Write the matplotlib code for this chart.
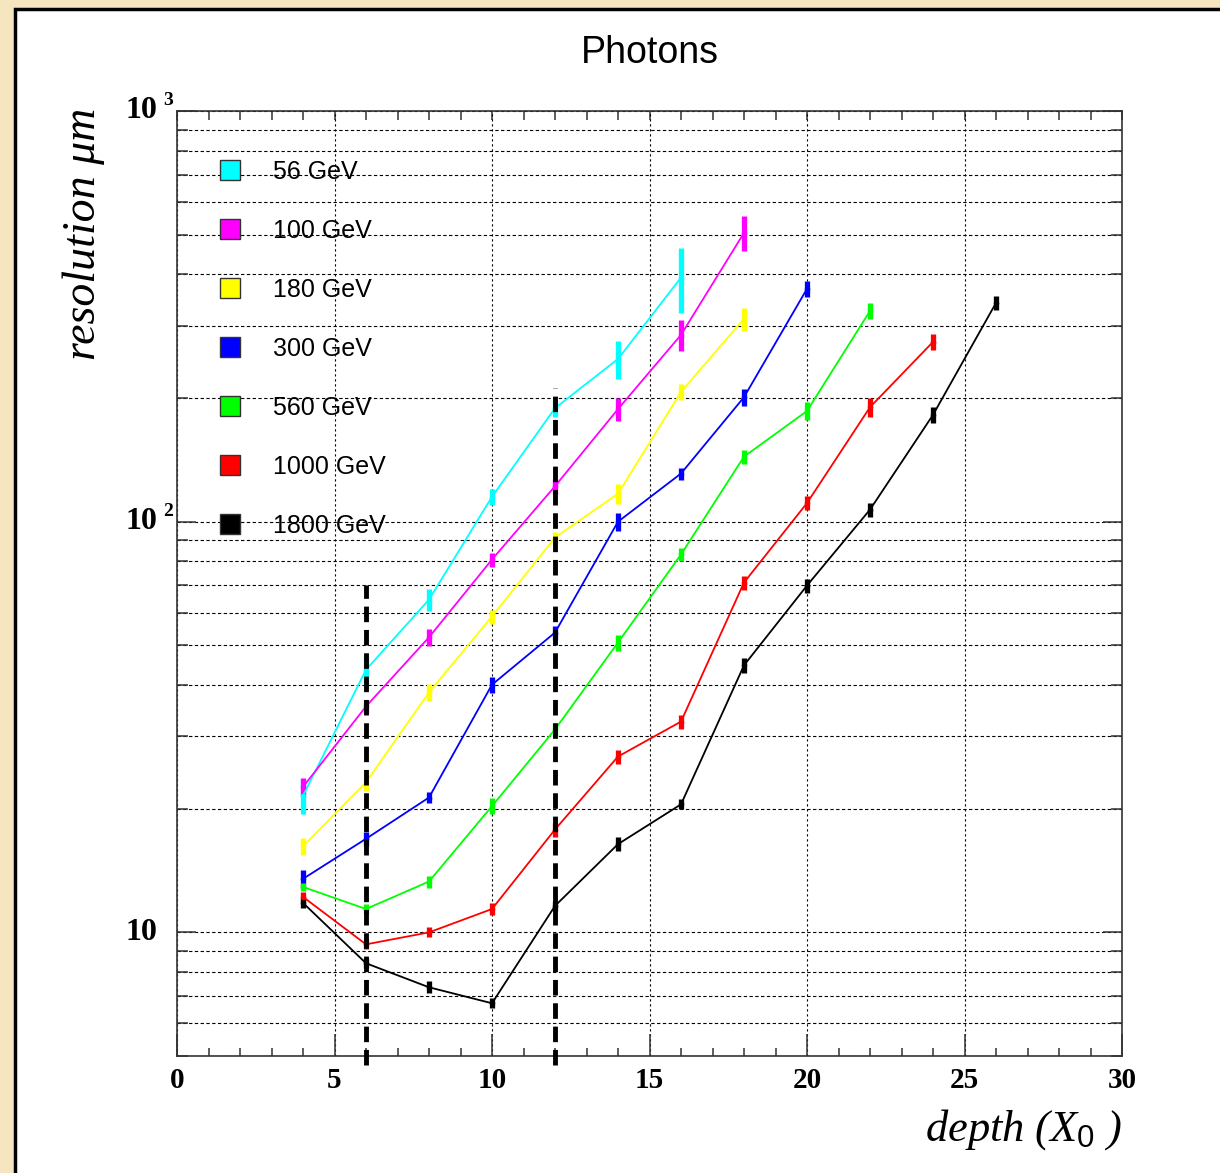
import matplotlib
matplotlib.use('Agg')
import matplotlib.pyplot as plt
import numpy as np
from matplotlib.patches import Rectangle
from matplotlib.lines import Line2D
from matplotlib.ticker import MultipleLocator, LogLocator, NullFormatter

plt.rcParams['mathtext.fontset'] = 'custom'
plt.rcParams['mathtext.it'] = 'Liberation Serif:italic'
plt.rcParams['mathtext.rm'] = 'Liberation Serif'
plt.rcParams['mathtext.sf'] = 'Liberation Sans'

# data: depth in X0, resolution in micrometres
labels = ['56 GeV', '100 GeV', '180 GeV', '300 GeV', '560 GeV', '1000 GeV', '1800 GeV']
colors = ['#00ffff', '#ff00ff', '#ffff00', '#0000ff', '#00ff00', '#ff0000', '#000000']

res_56 = [21.5, 43.6, 64.6, 115, 189, 249, 393]
res_100 = [22.6, 35.5, 52.3, 80.9, 122, 188, 285, 505]
res_180 = [16.2, 23.2, 38.4, 58.8, 91.5, 117, 207, 312]
res_300 = [13.5, 16.9, 21.3, 40.1, 53.7, 100, 131, 201, 369]
res_560 = [12.9, 11.4, 13.3, 20.3, 31.2, 50.8, 83.2, 144, 186, 326]
res_1000 = [12.2, 9.35, 10.0, 11.4, 17.8, 26.8, 32.6, 71.1, 111, 190, 274]
res_1800 = [11.8, 8.41, 7.35, 6.72, 11.6, 16.4, 20.5, 44.7, 69.9, 107, 182, 341]

err_56 = [2.1, 3.5, 4.1, 5.3, 8.7, 26, 70]
err_100 = [1.1, 1.2, 2.4, 3.2, 4.9, 12, 25, 50]
err_180 = [0.75, 1.1, 1.8, 2.3, 3.1, 6.7, 9.5, 20]
err_300 = [0.7, 0.7, 0.7, 1.8, 2.1, 5, 4.5, 10, 17]
err_560 = [0.3, 0.3, 0.45, 0.9, 1.1, 2.3, 3.2, 5.6, 9.5, 15]
err_1000 = [0.35, 0.26, 0.28, 0.39, 0.7, 1.07, 1.3, 2.8, 4.4, 9.7, 12.6]
err_1800 = [0.33, 0.24, 0.25, 0.19, 0.32, 0.66, 0.57, 1.8, 2.8, 4.3, 8.4, 13.6]

series = [res_56, res_100, res_180, res_300, res_560, res_1000, res_1800]
errors = [err_56, err_100, err_180, err_300, err_560, err_1000, err_1800]

# thick dashed markers at depth 6 and 12
cut_depth = [6, 12]
cut_top = [70, 212]
cut_bottom = 4.75

W, H = 1220, 1173
fig = plt.figure(figsize=(W / 100, H / 100), dpi=100, facecolor='#f6e6bf')
fig.patches.append(Rectangle((15 / W, -0.1), 1.2, 1.1 - 9 / H, transform=fig.transFigure,
                             facecolor='white', edgecolor='black', lw=2.5, zorder=-10))

ax = fig.add_axes([177 / W, 1 - 1056 / H, 945 / W, 945 / H])
ax.set_yscale('log')
ax.set_xlim(0, 30)
ax.set_ylim(5, 1000)

# grid
ax.xaxis.set_major_locator(MultipleLocator(5))
ax.xaxis.set_minor_locator(MultipleLocator(1))
ax.yaxis.set_major_locator(LogLocator(base=10))
ax.yaxis.set_minor_locator(LogLocator(base=10, subs=np.arange(2, 10)))
ax.yaxis.set_major_formatter(NullFormatter())
ax.yaxis.set_minor_formatter(NullFormatter())
ax.grid(True, axis='y', which='both', color='black', lw=0.8, dashes=(3, 2.2))
ax.grid(True, axis='x', which='major', color='black', lw=0.8, dashes=(2, 2.5))

for sp in ax.spines.values():
    sp.set_linewidth(1.2)
    sp.set_color('#333333')

ax.tick_params(axis='x', which='major', direction='in', length=16, width=1.1, color='#333333',
               top=False, pad=8, labelsize=21)
ax.tick_params(axis='x', which='minor', direction='in', length=6, width=1.1, color='#333333', top=False)
ax.tick_params(axis='y', which='major', direction='in', length=14, width=1.1, color='#333333', right=True)
ax.tick_params(axis='y', which='minor', direction='in', length=8, width=1.1, color='#333333', right=True)
for lab in ax.get_xticklabels():
    lab.set_family('Liberation Serif')
    lab.set_weight('bold')

top = ax.secondary_xaxis('top')
top.xaxis.set_major_locator(MultipleLocator(1))
top.tick_params(axis='x', which='major', direction='in', length=6.5, width=1.1, color='#333333',
                labeltop=False)
top.tick_params(axis='x', which='minor', length=0)
top.spines['top'].set_visible(False)

# y tick labels in ROOT style "10 3"
for val, exp in [(1000, '3'), (100, '2'), (10, None)]:
    ax.annotate('10', xy=(0, val), xycoords=('axes fraction', 'data'), xytext=(-14, 0),
                textcoords='offset points', ha='right', va='center', fontsize=23,
                family='Liberation Serif', weight='bold')
    if exp:
        ax.annotate(exp, xy=(0, val), xycoords=('axes fraction', 'data'), xytext=(-10, 7.5),
                    textcoords='offset points', ha='left', va='center', fontsize=14,
                    family='Liberation Serif', weight='bold')

# curves
handles = []
for vals, errs, c, lab in zip(series, errors, colors, labels):
    depth = np.arange(len(vals)) * 2 + 4
    ax.errorbar(depth, vals, yerr=errs, fmt='-', color=c, lw=1.3, elinewidth=3.8, capsize=0,
                marker='o', ms=3, zorder=3)
    handles.append(Line2D([], [], ls='none', marker='s', ms=14, mfc=c, mec='#333333', mew=1.0, label=lab))

for d, t in zip(cut_depth, cut_top):
    ax.plot([d, d], [cut_bottom, t], color='black', lw=3.5, dashes=(3.2, 1.6), clip_on=False, zorder=4)

leg = ax.legend(handles=handles, loc='upper left', bbox_to_anchor=(0.043, 0.948), frameon=False,
                handlelength=1.0, handletextpad=1.2, labelspacing=1.4,
                borderpad=0, borderaxespad=0, prop={'family': 'Liberation Sans', 'size': 18})

fig.text(650 / W, 1 - 53 / H, 'Photons', ha='center', va='center', fontsize=27, family='Liberation Sans')
fig.text(84 / W, 1 - 108 / H, 'resolution μm', rotation=90, ha='center', va='top', fontsize=33,
         family='Liberation Serif', style='italic')
fig.text(1122 / W, 1 - 1130 / H, r'depth ($X_{\mathsf{0}}$ )', ha='right', va='center', fontsize=32,
         family='Liberation Serif', style='italic')

fig.savefig('out.png', dpi=100, facecolor=fig.get_facecolor())
